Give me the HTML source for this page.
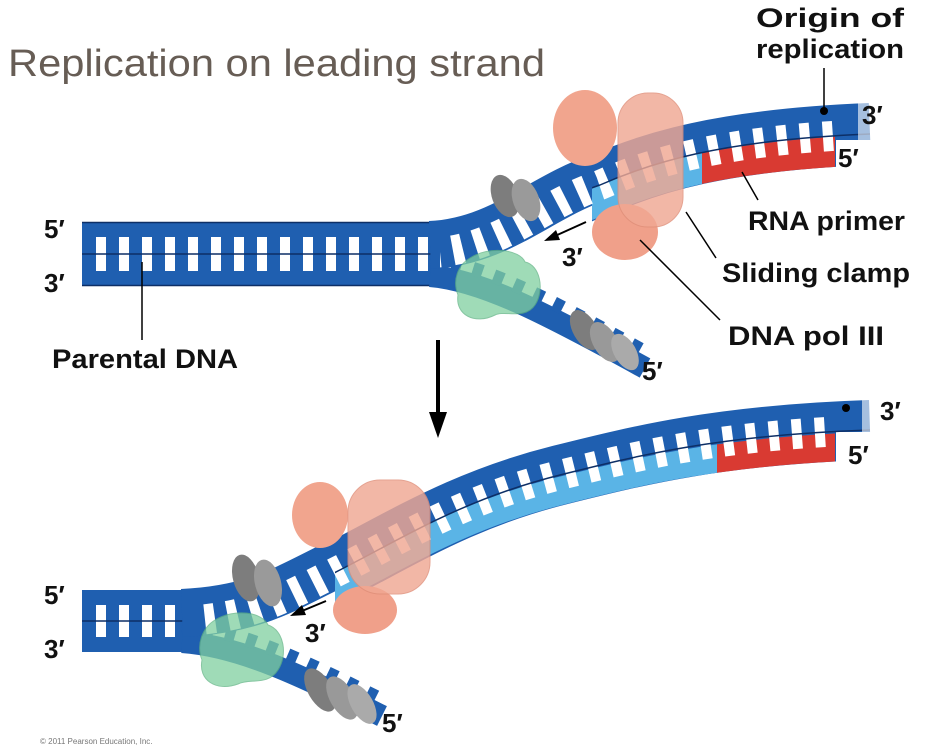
<!DOCTYPE html>
<html><head><meta charset="utf-8"><style>
html,body{margin:0;padding:0;background:#fff;}
svg{display:block;}
text{font-family:"Liberation Sans",Arial,sans-serif;}
.lb{font-weight:bold;font-size:27px;fill:#111;}
.pr{font-weight:bold;font-size:26px;fill:#111;}
</style></head><body>
<svg width="936" height="746" viewBox="0 0 936 746" xmlns="http://www.w3.org/2000/svg">
<defs>
<clipPath id="t_ss"><rect x="0" y="0" width="592" height="400"/></clipPath>
<clipPath id="t_ds"><rect x="592" y="0" width="400" height="400"/></clipPath>
<clipPath id="t_lb"><rect x="592" y="0" width="110" height="400"/></clipPath>
<clipPath id="t_red"><rect x="702" y="0" width="133" height="400"/></clipPath>
<clipPath id="t_rung"><rect x="440" y="0" width="396" height="400"/></clipPath>
<clipPath id="t_end"><rect x="0" y="0" width="858" height="400"/></clipPath>
<clipPath id="b_ss"><rect x="0" y="380" width="335" height="366"/></clipPath>
<clipPath id="b_ds"><rect x="335" y="380" width="600" height="366"/></clipPath>
<clipPath id="b_lb"><rect x="335" y="380" width="382" height="366"/></clipPath>
<clipPath id="b_red"><rect x="717" y="380" width="118" height="366"/></clipPath>
<clipPath id="b_rung"><rect x="195" y="380" width="641" height="366"/></clipPath>
<clipPath id="b_end"><rect x="0" y="380" width="862" height="366"/></clipPath>
<path id="P1" d="M430,253 C500,250 540,205 600,185 C650,163 720,140 870,134"/>
<path id="L1" d="M430,276 C480,280 540,310 645,368"/>
<path id="P2" d="M182,621 C250,618 280,600 330,575 C400,540 460,500 560,475 C640,455 720,435 870,430"/>
<path id="L2" d="M182,642 C240,646 300,675 382,716"/>
</defs>

<text x="8" y="76" font-size="38" fill="#675d55" textLength="537" lengthAdjust="spacingAndGlyphs">Replication on leading strand</text>

<!-- ===== TOP DIAGRAM ===== -->
<rect x="82" y="222" width="360" height="64" fill="#1f5fb0"/>
<line x1="82" y1="222.5" x2="440" y2="222.5" stroke="#0d2f66" stroke-width="1.5"/>
<line x1="82" y1="285.5" x2="440" y2="285.5" stroke="#0d2f66" stroke-width="1.5"/>
<line x1="96" y1="254" x2="440" y2="254" stroke="#fff" stroke-width="34" stroke-dasharray="10 13"/>
<line x1="82" y1="254" x2="440" y2="254" stroke="#0d2f66" stroke-width="1.5"/>
<use href="#L1" fill="none" stroke="#1f5fb0" stroke-width="22" clip-path="url(#t_end)"/>
<use href="#L1" fill="none" stroke="#1f5fb0" stroke-width="14" stroke-dasharray="10 12" transform="translate(0,-16)"/>
<use href="#P1" fill="none" stroke="#1f5fb0" stroke-width="48" transform="translate(0,-8)" clip-path="url(#t_ss)"/>
<use href="#P1" fill="none" stroke="#1f5fb0" stroke-width="62" clip-path="url(#t_ds)"/>
<use href="#P1" fill="none" stroke="#5ab4e6" stroke-width="30" transform="translate(0,16)" clip-path="url(#t_lb)"/>
<use href="#P1" fill="none" stroke="#d93a32" stroke-width="30" transform="translate(0,16)" clip-path="url(#t_red)"/>
<rect x="836" y="140" width="40" height="40" fill="#fff"/>
<use href="#P1" fill="none" stroke="#fff" stroke-width="30" stroke-dasharray="10 13" clip-path="url(#t_rung)"/>
<use href="#P1" fill="none" stroke="#0d2f66" stroke-width="1.5" clip-path="url(#t_ds)"/>
<rect x="858" y="95" width="20" height="50" fill="#fff" opacity="0.6"/>
<circle cx="824" cy="111" r="4" fill="#000"/>
<ellipse cx="505" cy="196" rx="13" ry="22" fill="#7d7d7d" transform="rotate(-20 505 196)"/>
<ellipse cx="526" cy="200" rx="13" ry="22" fill="#9a9a9a" transform="rotate(-20 526 200)"/>
<ellipse cx="585" cy="330" rx="12" ry="22" fill="#7d7d7d" transform="rotate(-30 585 330)"/>
<ellipse cx="605" cy="342" rx="12" ry="22" fill="#999" transform="rotate(-30 605 342)"/>
<ellipse cx="625" cy="352" rx="11" ry="20" fill="#aaa" transform="rotate(-30 625 352)"/>
<path d="M470,258 C490,245 520,250 525,262 C540,265 545,290 535,305 C525,320 505,310 495,315 C475,325 455,315 458,295 C452,280 458,265 470,258 Z" fill="#7fcf9f" opacity="0.75" stroke="#5fb383"/>
<ellipse cx="585" cy="128" rx="32" ry="38" fill="#f1a58e"/>
<ellipse cx="625" cy="232" rx="33" ry="28" fill="#f0a08a"/>
<rect x="618" y="93" width="65" height="134" rx="30" fill="#f0a893" opacity="0.82" stroke="#e08f7a"/>
<line x1="586" y1="222" x2="555" y2="236" stroke="#000" stroke-width="2"/>
<polygon points="544,241 556,230 560,240" fill="#000"/>

<text class="lb" x="830" y="27" text-anchor="middle" textLength="148" lengthAdjust="spacingAndGlyphs">Origin of</text>
<text class="lb" x="830" y="58" text-anchor="middle" textLength="148" lengthAdjust="spacingAndGlyphs">replication</text>
<line x1="824" y1="68" x2="824" y2="108" stroke="#000" stroke-width="1.5"/>
<text class="pr" x="862" y="124">3′</text>
<text class="pr" x="838" y="167">5′</text>
<line x1="742" y1="172" x2="758" y2="200" stroke="#000" stroke-width="1.5"/>
<text class="lb" x="748" y="230" textLength="157" lengthAdjust="spacingAndGlyphs">RNA primer</text>
<line x1="686" y1="212" x2="716" y2="258" stroke="#000" stroke-width="1.5"/>
<text class="lb" x="722" y="282" textLength="188" lengthAdjust="spacingAndGlyphs">Sliding clamp</text>
<line x1="640" y1="240" x2="720" y2="320" stroke="#000" stroke-width="1.5"/>
<text class="lb" x="728" y="345" textLength="156" lengthAdjust="spacingAndGlyphs">DNA pol III</text>
<text class="pr" x="44" y="238">5′</text>
<text class="pr" x="44" y="292">3′</text>
<text class="pr" x="562" y="266">3′</text>
<text class="pr" x="642" y="380">5′</text>
<line x1="142" y1="262" x2="142" y2="340" stroke="#000" stroke-width="1.5"/>
<text class="lb" x="52" y="368" textLength="186" lengthAdjust="spacingAndGlyphs">Parental DNA</text>

<line x1="438" y1="340" x2="438" y2="418" stroke="#000" stroke-width="4"/>
<polygon points="429,412 447,412 438,438" fill="#000"/>

<!-- ===== BOTTOM DIAGRAM ===== -->
<rect x="82" y="590" width="105" height="62" fill="#1f5fb0"/>
<line x1="96" y1="621" x2="190" y2="621" stroke="#fff" stroke-width="32" stroke-dasharray="10 13"/>
<line x1="82" y1="621" x2="190" y2="621" stroke="#0d2f66" stroke-width="1.5"/>
<use href="#L2" fill="none" stroke="#1f5fb0" stroke-width="22"/>
<use href="#L2" fill="none" stroke="#1f5fb0" stroke-width="14" stroke-dasharray="10 12" transform="translate(0,-16)"/>
<use href="#P2" fill="none" stroke="#1f5fb0" stroke-width="48" transform="translate(0,-8)" clip-path="url(#b_ss)"/>
<use href="#P2" fill="none" stroke="#1f5fb0" stroke-width="60" clip-path="url(#b_ds)"/>
<use href="#P2" fill="none" stroke="#5ab4e6" stroke-width="28" transform="translate(0,16)" clip-path="url(#b_lb)"/>
<use href="#P2" fill="none" stroke="#d93a32" stroke-width="28" transform="translate(0,16)" clip-path="url(#b_red)"/>
<rect x="836" y="432" width="40" height="40" fill="#fff"/>
<use href="#P2" fill="none" stroke="#fff" stroke-width="30" stroke-dasharray="10 13" clip-path="url(#b_rung)"/>
<use href="#P2" fill="none" stroke="#0d2f66" stroke-width="1.5" clip-path="url(#b_ds)"/>
<rect x="862" y="390" width="20" height="50" fill="#fff" opacity="0.6"/>
<circle cx="846" cy="408" r="4" fill="#000"/>
<ellipse cx="246" cy="578" rx="13" ry="24" fill="#7d7d7d" transform="rotate(-15 246 578)"/>
<ellipse cx="268" cy="583" rx="13" ry="24" fill="#9a9a9a" transform="rotate(-15 268 583)"/>
<ellipse cx="320" cy="690" rx="12" ry="24" fill="#7d7d7d" transform="rotate(-30 320 690)"/>
<ellipse cx="342" cy="698" rx="12" ry="24" fill="#999" transform="rotate(-30 342 698)"/>
<ellipse cx="362" cy="704" rx="11" ry="22" fill="#aaa" transform="rotate(-30 362 704)"/>
<path d="M215,620 C235,608 262,612 268,625 C284,630 288,655 278,670 C268,686 250,678 238,684 C216,692 198,680 202,660 C196,645 202,628 215,620 Z" fill="#7fcf9f" opacity="0.75" stroke="#5fb383"/>
<ellipse cx="320" cy="515" rx="28" ry="33" fill="#f1a58e"/>
<ellipse cx="365" cy="610" rx="32" ry="24" fill="#f0a08a"/>
<rect x="348" y="480" width="82" height="114" rx="32" fill="#f0a893" opacity="0.82" stroke="#e08f7a"/>
<line x1="326" y1="601" x2="302" y2="611" stroke="#000" stroke-width="2"/>
<polygon points="290,616 302,605 306,615" fill="#000"/>
<text class="pr" x="44" y="604">5′</text>
<text class="pr" x="44" y="658">3′</text>
<text class="pr" x="305" y="642">3′</text>
<text class="pr" x="382" y="732">5′</text>
<text class="pr" x="880" y="420">3′</text>
<text class="pr" x="848" y="464">5′</text>
<text x="40" y="744" font-size="8" fill="#777">© 2011 Pearson Education, Inc.</text>
</svg>
</body></html>
